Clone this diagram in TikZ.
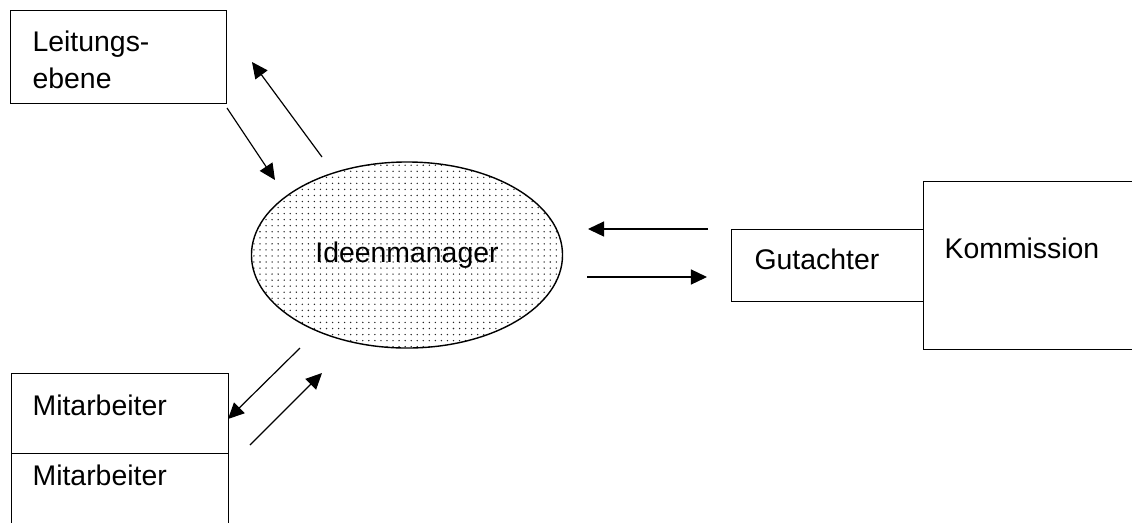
\documentclass[tikz,border=0pt]{standalone}
\usepackage{fontspec}
\setmainfont{Liberation Sans}
\usetikzlibrary{arrows.meta,patterns.meta,shapes.geometric}
\begin{document}
\begin{tikzpicture}[x=0.025cm,y=-0.025cm,line width=0.85pt,
                font=\fontsize{20.2}{26.3}\selectfont,
                pfeil/.style={-{Triangle[length=11.4pt,width=10.7pt]}}]
                \useasboundingbox (0,0) rectangle (1132,522);
                \begin{scope}[every node/.style={rectangle,draw=black,anchor=north west,inner sep=0pt}]
                \node[minimum width=5.4cm,minimum height=2.325cm] (L) at (10,10) {};
                \node[minimum width=4.8cm,minimum height=1.8cm] (G) at (731,229) {};
                \node[minimum width=5.5cm,minimum height=4.2cm] (K) at (923,181) {};
                \node[minimum width=5.425cm,minimum height=2cm] (M1) at (11,373) {};
                \node[minimum width=5.425cm,minimum height=2.3cm] (M2) at (11,453) {};
                \end{scope}
                \node[ellipse,draw=black,line width=1pt,pattern={Dots[distance=4.3pt,radius=0.55pt]},pattern color=black!85,
                      minimum width=7.775cm,minimum height=4.65cm,inner sep=0pt] (I) at (407,255) {Ideenmanager};
                \begin{scope}[every node/.style={anchor=base west,inner sep=0pt}]
                \node (Lt) at (32,51) {Leitungs-};
                \node (Lt2) at (32,88) {ebene};
                \node (Gt) at (754,269) {Gutachter};
                \node (Kt) at (944,258) {Kommission};
                \node (M1t) at (32,415) {Mitarbeiter};
                \node (M2t) at (32,485) {Mitarbeiter};
                \end{scope}
                % Pfeile
                \coordinate (l1) at (227,108); \coordinate (l2) at (275,180);
                \coordinate (l3) at (322,157); \coordinate (l4) at (252,62);
                \coordinate (g1) at (708,229); \coordinate (g2) at (588,229);
                \coordinate (g3) at (587,277); \coordinate (g4) at (707,277);
                \coordinate (m1) at (300,348); \coordinate (m2) at (228,419);
                \coordinate (m3) at (250,445); \coordinate (m4) at (322,373);
                \path (l1) edge [pfeil] (l2);
                \path (l3) edge [pfeil] (l4);
                \path (g1) edge [pfeil] (g2);
                \path (g3) edge [pfeil] (g4);
                \path (m1) edge [pfeil] (m2);
                \path (m3) edge [pfeil] (m4);
            \end{tikzpicture}
\end{document}
